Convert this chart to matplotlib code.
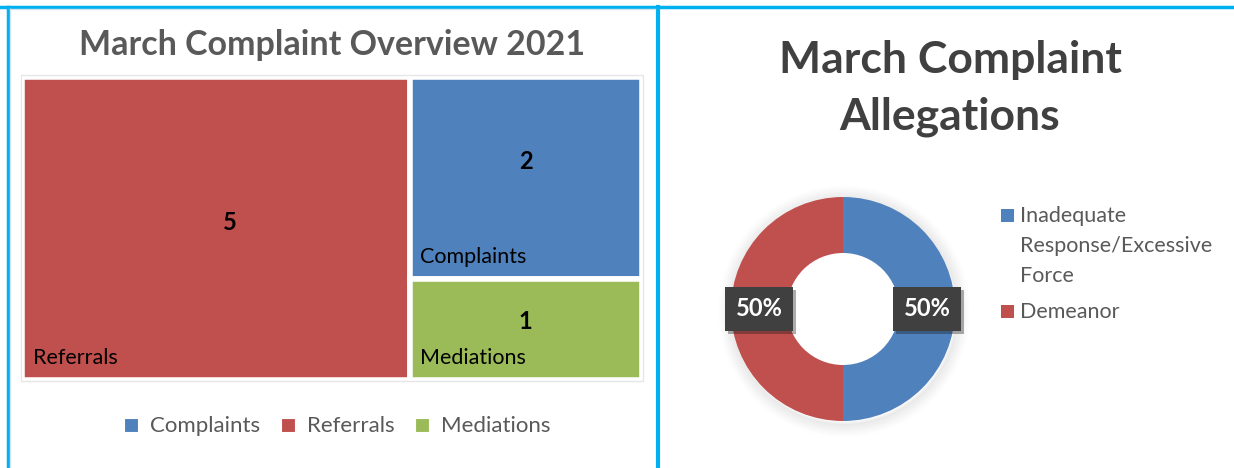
import numpy as np
import matplotlib.pyplot as plt
import matplotlib.patheffects as pe
from matplotlib.patches import Rectangle, Circle

plt.rcParams['font.family'] = ['Lato', 'DejaVu Sans']

# treemap data
tm_names = ['Complaints', 'Referrals', 'Mediations']
tm_values = [2, 5, 1]
tm_colors = ['#4F81BD', '#C0504D', '#9BBB59']

# donut data
pie_names = ['Inadequate\nResponse/Excessive\nForce', 'Demeanor']
pie_values = [1, 1]
pie_colors = ['#4F81BD', '#C0504D']

W, H = 1234, 468
fig = plt.figure(figsize=(W / 100, H / 100), dpi=100)


def px_axes(x0, y0, w, h):
    # axes from pixel box (top-left origin)
    return fig.add_axes([x0 / W, 1 - (y0 + h) / H, w / W, h / H])


# background frame
bg = px_axes(0, 0, W, H)
bg.set_xlim(0, W)
bg.set_ylim(H, 0)
bg.axis('off')
blue = '#00B0F0'
bg.plot([0, W], [7, 7], color=blue, lw=2.5)
bg.plot([8, 8], [7, H], color=blue, lw=2.5)
bg.plot([658, 658], [7, H], color=blue, lw=3)
bg.plot([10, 655], [9, 9], color='#cfe4ee', lw=1)
bg.plot([10, 10], [9, H], color='#cfe4ee', lw=1)
bg.add_patch(Rectangle((21, 75), 622, 306, fill=False, ec='#e6e6e6', lw=1))

fig.text(332 / W, 1 - 45 / H, 'March Complaint Overview 2021', ha='center', va='center',
         fontsize=24.5, fontweight='bold', color='#595959')

# treemap: biggest tile takes a column, the rest stack in the second column
ax = px_axes(22, 77, 620, 303)
ax.set_xlim(0, 1)
ax.set_ylim(1, 0)
ax.axis('off')
order = sorted(range(len(tm_values)), key=lambda i: -tm_values[i])
total = sum(tm_values)
first = order[0]
w0 = tm_values[first] / total
tiles = {first: (0, 0, w0, 1)}
rest = order[1:]
rest_total = sum(tm_values[i] for i in rest)
y = 0
for i in rest:
    h = tm_values[i] / rest_total
    tiles[i] = (w0, y, 1 - w0, h)
    y += h

for i, (x, y, w, h) in tiles.items():
    ax.add_patch(Rectangle((x, y), w, h, fc=tm_colors[i], ec='white', lw=4))
    ax.text(x + 0.017, y + h - 0.072, tm_names[i], ha='left', va='center',
            fontsize=15.5, color='black')
    if i == first:
        nx, ny = x + w / 2 + 0.023, y + h * 0.48
    else:
        nx, ny = x + w / 2, y + h * 0.42
    ax.text(nx, ny, str(tm_values[i]), ha='center', va='center', fontsize=17,
            fontweight='bold', color='black')

# bottom legend
leg_x = [131, 288, 422]
for i, lx in enumerate(leg_x):
    bg.add_patch(Rectangle((lx - 7, 418), 14, 14, fc=tm_colors[i], ec='white', lw=0.8))
    bg.text(lx + 19, 426, tm_names[i], ha='left', va='center', fontsize=16, color='#595959')

# right panel
fig.text(950 / W, 1 - 60 / H, 'March Complaint', ha='center', va='center',
         fontsize=32, fontweight='bold', color='#404040')
fig.text(950 / W, 1 - 117 / H, 'Allegations', ha='center', va='center',
         fontsize=32, fontweight='bold', color='#404040')

R = 112
pax = px_axes(843 - R * 1.3, 309 - R * 1.3, 2.6 * R, 2.6 * R)
# soft shadow outside the ring
for k in range(10):
    pax.add_patch(Circle((0.01, -0.02), 1.0 + 0.012 * k, fc='none', ec='black',
                         alpha=0.03 * (1 - k / 10), lw=3, zorder=0))
wedges, _ = pax.pie(pie_values, colors=pie_colors, startangle=90, counterclock=False,
                    radius=1, wedgeprops=dict(width=0.5, edgecolor='none'))
pax.set_xlim(-1.3, 1.3)
pax.set_ylim(-1.3, 1.3)
pax.set_aspect('equal')
pax.axis('off')

tot = sum(pie_values)
for wdg, v in zip(wedges, pie_values):
    ang = np.deg2rad((wdg.theta1 + wdg.theta2) / 2)
    t = pax.text(0.75 * np.cos(ang), 0.75 * np.sin(ang), f'{v / tot:.0%}', ha='center', va='center',
                 fontsize=17, fontweight='bold', color='white', zorder=5,
                 bbox=dict(boxstyle='square,pad=0.45', fc='#404040', ec='none'))
    t.get_bbox_patch().set_path_effects([pe.SimplePatchShadow(offset=(2, -2), alpha=0.35), pe.Normal()])

# right legend
bg.add_patch(Rectangle((1001, 209), 13, 13, fc=pie_colors[0], ec='none'))
bg.text(1020, 216, 'Inadequate', ha='left', va='center', fontsize=15.5, color='#595959')
bg.text(1020, 246, 'Response/Excessive', ha='left', va='center', fontsize=15.5, color='#595959')
bg.text(1020, 276, 'Force', ha='left', va='center', fontsize=15.5, color='#595959')
bg.add_patch(Rectangle((1001, 305), 13, 13, fc=pie_colors[1], ec='none'))
bg.text(1020, 312, pie_names[1], ha='left', va='center', fontsize=15.5, color='#595959')

fig.savefig('out.png', dpi=100)
